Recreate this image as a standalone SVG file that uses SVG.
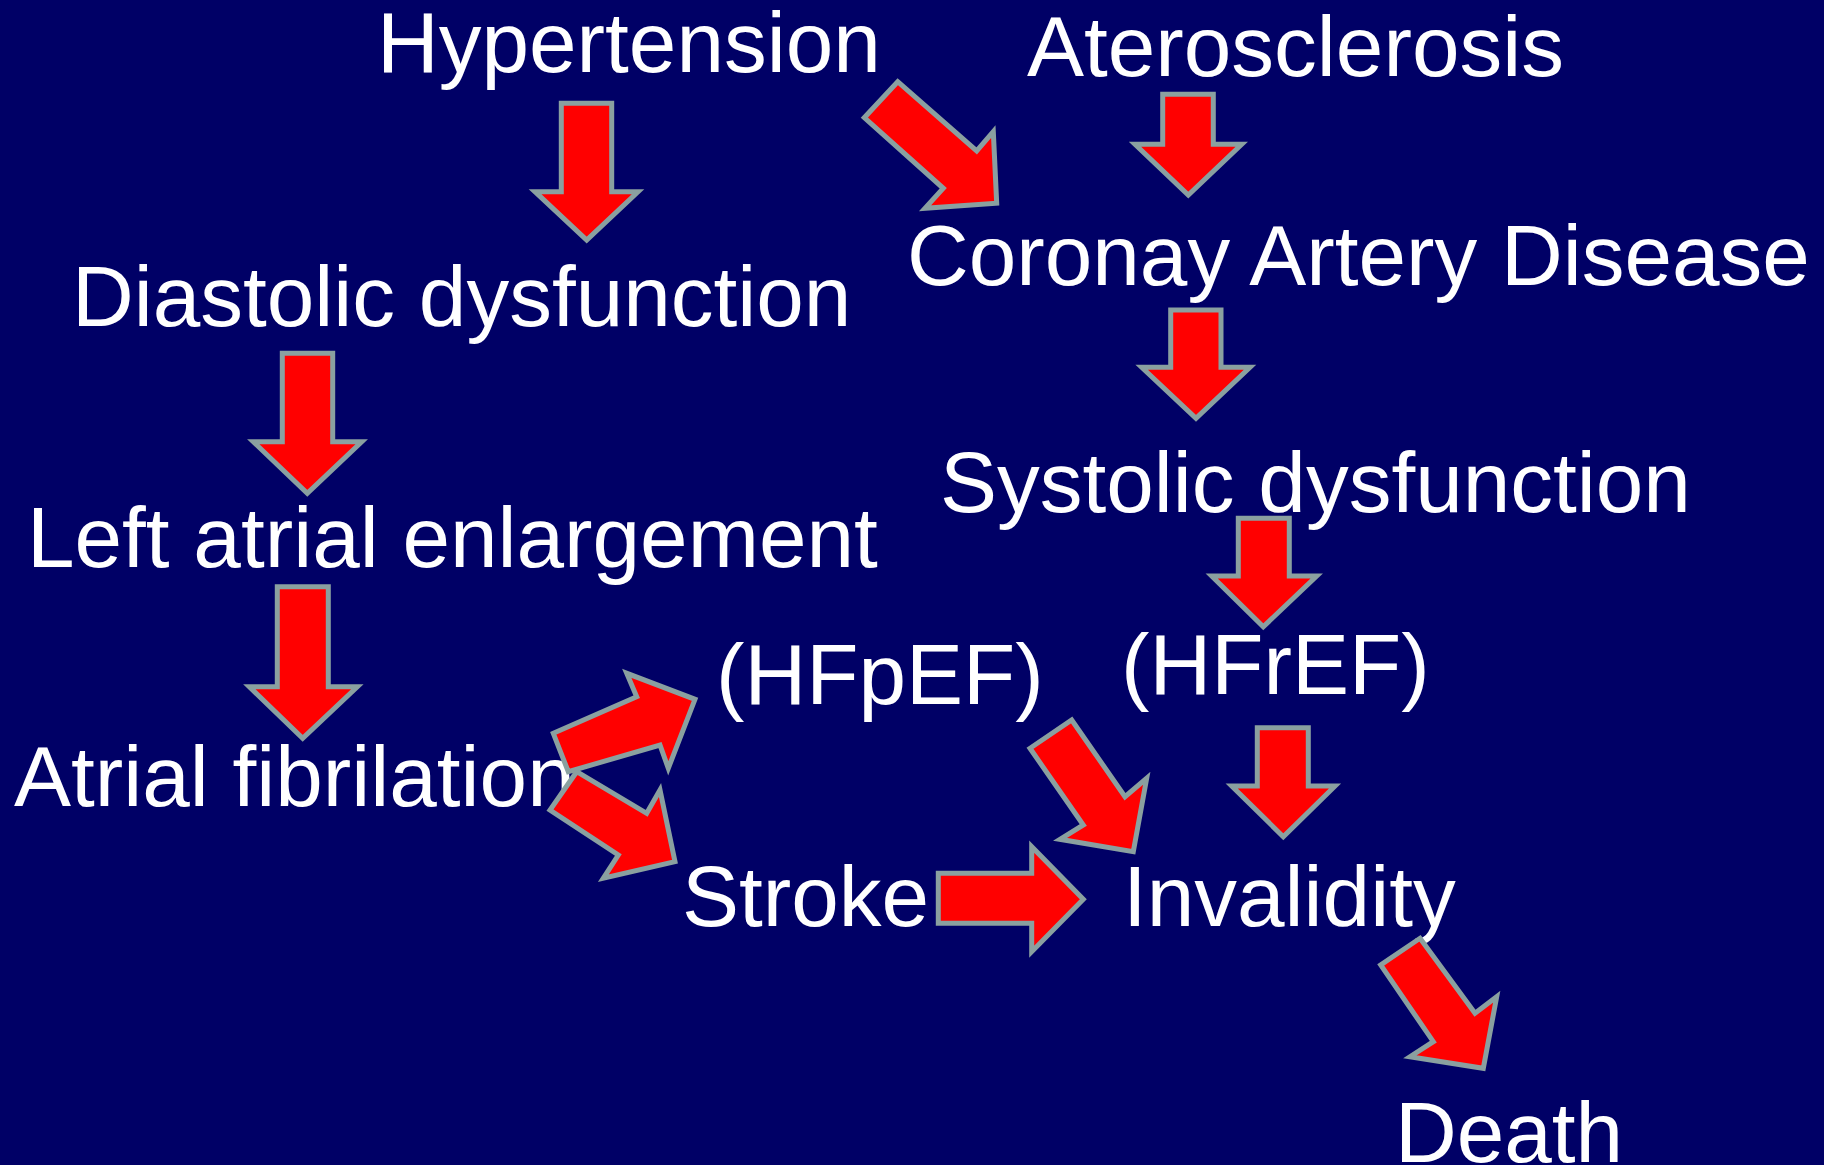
<svg xmlns="http://www.w3.org/2000/svg" width="1824" height="1165" viewBox="0 0 1824 1165">
<style>
.t{font-family:"Liberation Sans",Arial,sans-serif;font-size:85.5px;fill:#ffffff}
.a{fill:#ff0000;stroke:#8aa0a0;stroke-width:5;stroke-linejoin:miter}
</style>
<rect width="1824" height="1165" fill="#000066"/>
<g id="nodes">
<g id="n-hypertension"><text class="t" x="377" y="72">Hypertension</text></g>
<g id="n-aterosclerosis"><text class="t" x="1027" y="76">Aterosclerosis</text></g>
<g id="n-diastolic"><text class="t" x="72" y="326">Diastolic dysfunction</text></g>
<g id="n-cad"><text class="t" x="907" y="285">Coronay Artery Disease</text></g>
<g id="n-systolic"><text class="t" x="940" y="512">Systolic dysfunction</text></g>
<g id="n-lae"><text class="t" x="27" y="567">Left atrial enlargement</text></g>
<g id="n-hfpef"><text class="t" x="716" y="704">(HFpEF)</text></g>
<g id="n-hfref"><text class="t" x="1121" y="694">(HFrEF)</text></g>
<g id="n-af"><text class="t" x="14" y="806">Atrial fibrilation</text></g>
<g id="n-stroke"><text class="t" x="682" y="926">Stroke</text></g>
<g id="n-invalidity"><text class="t" x="1123" y="926">Invalidity</text></g>
<g id="n-death"><text class="t" x="1395" y="1162">Death</text></g>
</g>
<g id="connectors">
<polygon class="a" points="561.3,103.3 611.7,103.3 611.7,191.7 638,191.7 586.7,240 535,191.7 561.3,191.7"/>
<polygon class="a" points="1162.7,94.3 1213.3,94.3 1213.3,144.3 1241.7,144.3 1188.3,195 1135,144.3 1162.7,144.3"/>
<polygon class="a" points="1170.7,310 1221,310 1221,367.3 1250,367.3 1196,418.3 1141.7,367.3 1170.7,367.3"/>
<polygon class="a" points="282.3,353.3 332.7,353.3 332.7,441.7 361.7,441.7 307.3,493.3 253.3,441.7 282.3,441.7"/>
<polygon class="a" points="277.3,586.7 328.3,586.7 328.3,686.7 357.3,686.7 302.7,738.3 249.3,686.7 277.3,686.7"/>
<polygon class="a" points="1238.3,518.3 1289.3,518.3 1289.3,576 1316.7,576 1263.3,626.7 1211.7,576 1238.3,576"/>
<polygon class="a" points="1257.3,727.7 1308.3,727.7 1308.3,786 1335,786 1283.3,836.7 1231.7,786 1257.3,786"/>
<polygon class="a" points="938.3,873.3 1031.7,873.3 1031.7,846.7 1083.3,899.3 1031.7,951.7 1031.7,923.3 938.3,923.3"/>
<polygon class="a" points="897.7,81.7 976.7,151 993.3,131.7 996.7,203.3 925,208.3 943.3,188.3 864.3,117.7"/>
<polygon class="a" points="553.3,733.3 636.7,696.7 626.7,673.3 695,699.3 668.3,768.3 660,745 568.3,771.7"/>
<polygon class="a" points="576.7,771.7 646.7,813.3 660,790 675,861.7 603.3,878.3 618.3,855 550,810"/>
<polygon class="a" points="1071.7,720 1125,796.7 1146.7,778.3 1133.3,851.7 1060,839.3 1083.3,825 1030,748.3"/>
<polygon class="a" points="1420,938.3 1475,1013.3 1496.7,996.7 1483.3,1068.3 1410,1056.7 1433.3,1041.7 1380.7,965"/>
</g>
</svg>
